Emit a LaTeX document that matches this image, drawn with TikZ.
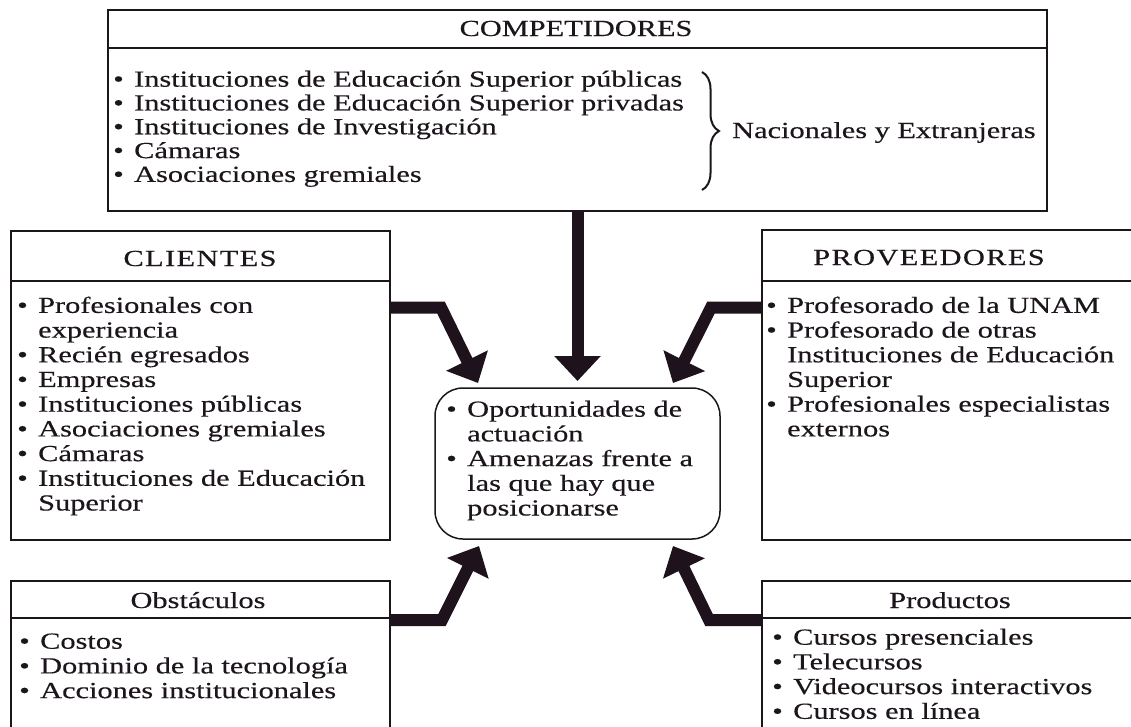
\documentclass[tikz,border=0pt]{standalone}
\usepackage{fontspec}
\setmainfont{Liberation Serif}[FakeStretch=1.32, FakeBold=0.4]
\newfontfamily\hdrfont{Liberation Serif}[FakeStretch=1.32, FakeBold=0.4, LetterSpace=6]
\usetikzlibrary{arrows.meta,decorations.pathreplacing}
\definecolor{ink}{RGB}{28,22,28}
\definecolor{arrowink}{RGB}{30,18,28}
\newcommand{\bul}{\makebox[21pt][l]{\textbullet}}
\newcommand{\ind}{\hspace*{21pt}}
\begin{document}
\begin{tikzpicture}[x=1pt,y=-1pt,
  box/.style={draw=ink, line width=1.5pt, inner sep=0pt},
  divline/.style={draw=ink, line width=1.5pt},
  txt/.style={inner sep=0pt, align=left, anchor=north west, text=ink,
    font=\fontsize{23}{24.7}\selectfont},
  hdr/.style={inner sep=0pt, anchor=base, text=ink, font=\fontsize{23}{24.7}\selectfont},
  bigarrow/.style={draw=arrowink, line width=12pt, line join=miter,
    -{Triangle[width=45pt,length=25pt]}}]
\clip (0,0) rectangle (1131,726);
\fill[white] (0,0) rectangle (1131,726);

% boxes
\node[box, minimum width=939pt, minimum height=201pt] (comp) at (577.5,110.5) {};
\node[box, minimum width=379pt, minimum height=309pt] (cli) at (200.5,385.5) {};
\node[box, minimum width=378pt, minimum height=310pt] (prov) at (951,385) {};
\node[box, minimum width=379pt, minimum height=159pt] (obs) at (200.5,660.5) {};
\node[box, minimum width=378pt, minimum height=159pt] (prod) at (951,660.5) {};
\node[box, rounded corners=28pt, minimum width=285pt, minimum height=151pt] (opp) at (577.5,463.5) {};

% dividers
\draw[divline] (comp.west |- 0,48) -- (comp.east |- 0,48);
\draw[divline] (cli.west |- 0,281) -- (cli.east |- 0,281);
\draw[divline] (prov.west |- 0,281) -- (prov.east |- 0,281);
\draw[divline] (obs.west |- 0,618) -- (obs.east |- 0,618);
\draw[divline] (prod.west |- 0,618) -- (prod.east |- 0,618);

% headers
\node[hdr] (compH) at (576,36) {COMPETIDORES};
\node[hdr] (cliH) at (200,266) {\hdrfont CLIENTES};
\node[hdr] (provH) at (929,265) {\hdrfont PROVEEDORES};
\node[hdr] (obsH) at (198,608) {Obstáculos};
\node[hdr] (prodH) at (950,608) {Productos};

% lists
\node[txt, font=\fontsize{23}{23.8}\selectfont] (compL) at (113,69.8) {\strut\bul Instituciones de Educación Superior públicas\\
\bul Instituciones de Educación Superior privadas\\
\bul Instituciones de Investigación\\
\bul Cámaras\\
\bul Asociaciones gremiales};
\draw[ink, line width=2pt, decorate, decoration={brace, amplitude=17pt}] (702,72) -- (702,190);
\node[inner sep=0pt, anchor=base west, text=ink, font=\fontsize{23}{24.7}\selectfont] (nac) at (732,138) {Nacionales y Extranjeras};

\node[txt] (cliL) at (17,295.4) {\strut\bul Profesionales con\\
\ind experiencia\\
\bul Recién egresados\\
\bul Empresas\\
\bul Instituciones públicas\\
\bul Asociaciones gremiales\\
\bul Cámaras\\
\bul Instituciones de Educación\\
\ind Superior};

\node[txt] (provL) at (766,295.4) {\strut\bul Profesorado de la UNAM\\
\bul Profesorado de otras\\
\ind Instituciones de Educación\\
\ind Superior\\
\bul Profesionales especialistas\\
\ind externos};

\node[txt] (oppL) at (446,399.2) {\strut\bul Oportunidades de\\
\ind actuación\\
\bul Amenazas frente a\\
\ind las que hay que\\
\ind posicionarse};

\node[txt] (obsL) at (19,631.2) {\strut\bul Costos\\
\bul Dominio de la tecnología\\
\bul Acciones institucionales};

\node[txt] (prodL) at (772,627.2) {\strut\bul Cursos presenciales\\
\bul Telecursos\\
\bul Videocursos interactivos\\
\bul Cursos en línea};

% arrow coordinates
\coordinate (t0) at (577.5,381);
\coordinate (b1) at (441,307.5);
\coordinate (t1) at (478,383);
\coordinate (b2) at (711,307.5);
\coordinate (t2) at (673,383);
\coordinate (b3) at (442,620);
\coordinate (t3) at (479,546);
\coordinate (b4) at (709,620);
\coordinate (t4) at (673,546);

\draw[bigarrow] (comp.south) -- (t0);
\draw[bigarrow] (cli.east |- b1) -- (b1) -- (t1);
\draw[bigarrow] (prov.west |- b2) -- (b2) -- (t2);
\draw[bigarrow] (obs.east |- b3) -- (b3) -- (t3);
\draw[bigarrow] (prod.west |- b4) -- (b4) -- (t4);
\end{tikzpicture}
\end{document}
